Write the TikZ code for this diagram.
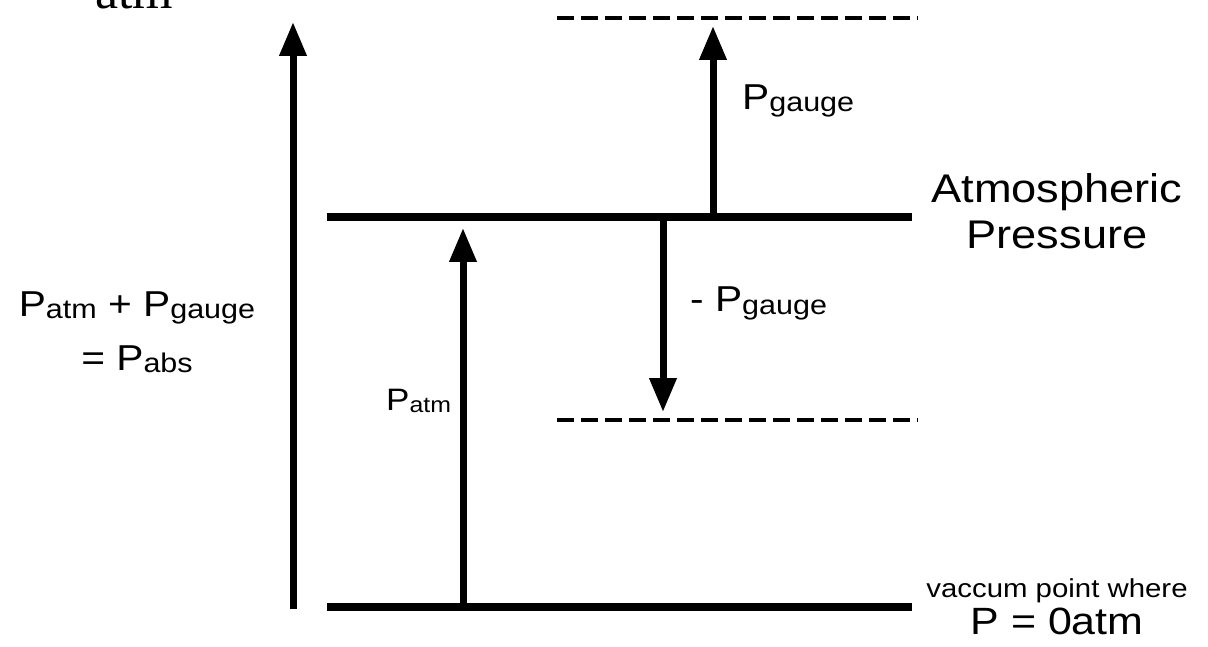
\documentclass[tikz,border=0pt]{standalone}
\usepackage{fontspec}
\setmainfont{Liberation Sans}[FakeStretch=1.13]
\newfontfamily\topserif{Liberation Serif}
\usetikzlibrary{arrows.meta}
\newcommand{\Psb}[1]{P{\fontsize{27}{27}\selectfont\raisebox{-2pt}{#1}}}
\newcommand{\Psbs}[1]{P{\fontsize{22}{22}\selectfont\raisebox{-2pt}{#1}}}
\tikzset{
  bar/.style={line width=7.5pt},
  vec/.style={line width=7pt, -{Triangle[length=34pt,width=26pt]}},
  lvl/.style={line width=4pt, dash pattern=on 17pt off 7pt},
  lbl/.style={font=\fontsize{36}{36}\selectfont, inner sep=0pt, anchor=base west},
}
\begin{document}
\begin{tikzpicture}[x=1pt,y=-1pt]
\useasboundingbox (0,0) rectangle (1208,647);
% cut-off text at top
\node[font=\fontsize{52}{52}\topserif, inner sep=0pt, anchor=base] (topatm) at (134,9) {atm};
% levels
\coordinate (b1) at (327,607); \coordinate (b2) at (912,607);
\coordinate (a1) at (327,217); \coordinate (a2) at (912,217);
\coordinate (dt1) at (557,18); \coordinate (dt2) at (918,18);
\coordinate (db1) at (557,420); \coordinate (db2) at (918,420);
\draw[bar] (b1) -- (b2);
\draw[bar] (a1) -- (a2);
\draw[lvl] (dt1) -- (dt2);
\draw[lvl] (db1) -- (db2);
% arrows
\coordinate (L0) at (293,609); \coordinate (L1) at (293,22);
\coordinate (pa0) at (463,607); \coordinate (pa1) at (463,228);
\coordinate (pg0) at (713,217); \coordinate (pg1) at (713,26);
\coordinate (ng0) at (663,217); \coordinate (ng1) at (663,412);
\draw[vec] (L0) -- (L1);
\draw[vec] (pa0) -- (pa1);
\draw[vec] (pg0) -- (pg1);
\draw[vec] (ng0) -- (ng1);
% labels
\node[lbl] (lpg) at (742,110) {\Psb{gauge}};
\node[lbl] (lng) at (690,312) {- \Psb{gauge}};
\node[lbl, font=\fontsize{31}{31}\selectfont] (lpa) at (386,410) {\Psbs{atm}};
\node[font=\fontsize{36}{54}\selectfont, inner sep=0pt, align=center, anchor=base] (lsum) at (137,370) {\Psb{atm} + \Psb{gauge}\\= \Psb{abs}};
\node[font=\fontsize{40}{47}\selectfont, inner sep=0pt, align=center, anchor=base] (latm) at (1057,249) {Atmospheric\\Pressure};
\node[font=\fontsize{26}{26}\selectfont, inner sep=0pt, anchor=base] (lvac) at (1057,597) {vaccum point where};
\node[font=\fontsize{38}{38}\selectfont, inner sep=0pt, anchor=base] (lzero) at (1057,634) {P = 0atm};
\end{tikzpicture}
\end{document}
